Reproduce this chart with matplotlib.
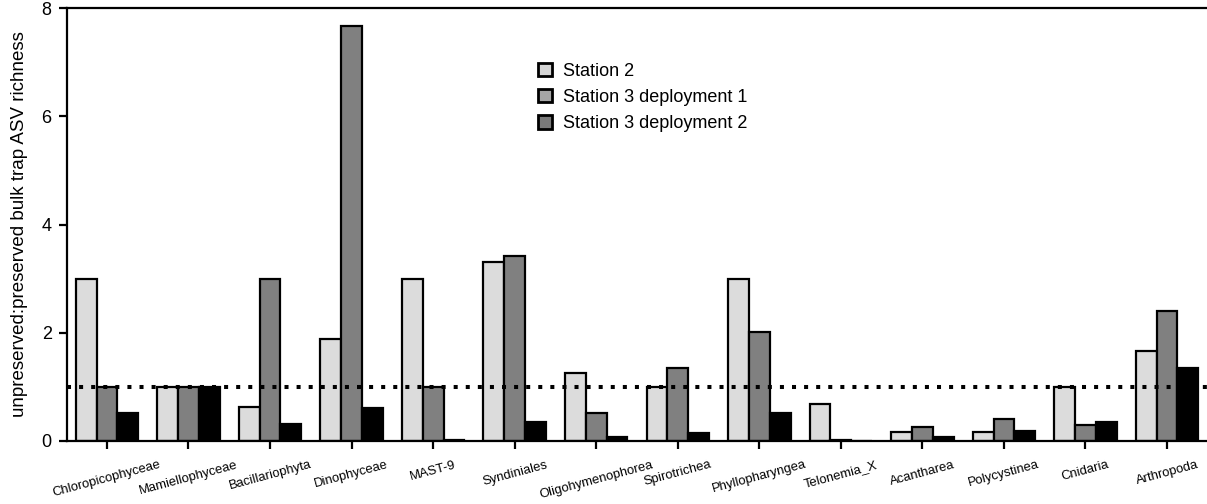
import numpy as np
import matplotlib
matplotlib.use('Agg')
import matplotlib.pyplot as plt
from matplotlib.patches import Patch

plt.rcParams['font.family'] = ['Liberation Sans', 'DejaVu Sans']

# Data
taxa = ['Chloropicophyceae', 'Mamiellophyceae', 'Bacillariophyta', 'Dinophyceae',
        'MAST-9', 'Syndiniales', 'Oligohymenophorea', 'Spirotrichea',
        'Phyllopharyngea', 'Telonemia_X', 'Acantharea', 'Polycystinea',
        'Cnidaria', 'Arthropoda']
station2 = [3.0, 1.0, 0.62, 1.89, 3.0, 3.31, 1.26, 1.0, 3.0, 0.68, 0.17, 0.17, 1.0, 1.66]
st3_dep1 = [1.0, 1.0, 3.0, 7.67, 1.0, 3.41, 0.51, 1.34, 2.01, 0.01, 0.26, 0.40, 0.29, 2.40]
st3_dep2 = [0.52, 1.0, 0.30, 0.61, 0.01, 0.34, 0.07, 0.15, 0.52, 0.0, 0.07, 0.18, 0.35, 1.35]
legend_labels = ['Station 2', 'Station 3 deployment 1', 'Station 3 deployment 2']

fig = plt.figure(figsize=(12.07, 5.04), dpi=100)
ax = fig.add_axes([0.0555, 0.1256, 0.9445, 0.8579])

x = np.arange(len(taxa))
w = 0.255
ax.bar(x - w, station2, w, color='#dcdcdc', edgecolor='black', linewidth=1.6)
ax.bar(x, st3_dep1, w, color='#808080', edgecolor='black', linewidth=1.6)
ax.bar(x + w, st3_dep2, w, color='black', edgecolor='black', linewidth=1.6)

ax.axhline(1, color='black', linestyle=(0, (1, 2)), linewidth=2.9, zorder=3)

ax.set_xlim(-0.49, 13.49)
ax.set_ylim(0, 8)
ax.set_yticks([0, 2, 4, 6, 8])
ax.set_xticks(x)
ax.set_xticklabels(taxa, rotation=15, fontsize=9.4, ha='center')
ax.tick_params(axis='both', direction='out', length=6, width=1.6)
ax.tick_params(axis='x', pad=7)
ax.tick_params(axis='y', labelsize=13, pad=5)
ax.set_ylabel('unpreserved:preserved bulk trap ASV richness', fontsize=13.5, labelpad=10)
for s in ax.spines.values():
    s.set_linewidth(1.6)
ax.spines['right'].set_visible(False)

handles = [Patch(facecolor=c, edgecolor='black', linewidth=2)
           for c in ['#d4d4d4', '#a6a6a6', '#7a7a7a']]
ax.legend(handles, legend_labels, loc='upper left', bbox_to_anchor=(0.399, 0.912),
          frameon=False, fontsize=13, handlelength=0.75, handleheight=0.75,
          handletextpad=0.65, labelspacing=0.52)

fig.savefig('out.png', dpi=100)
